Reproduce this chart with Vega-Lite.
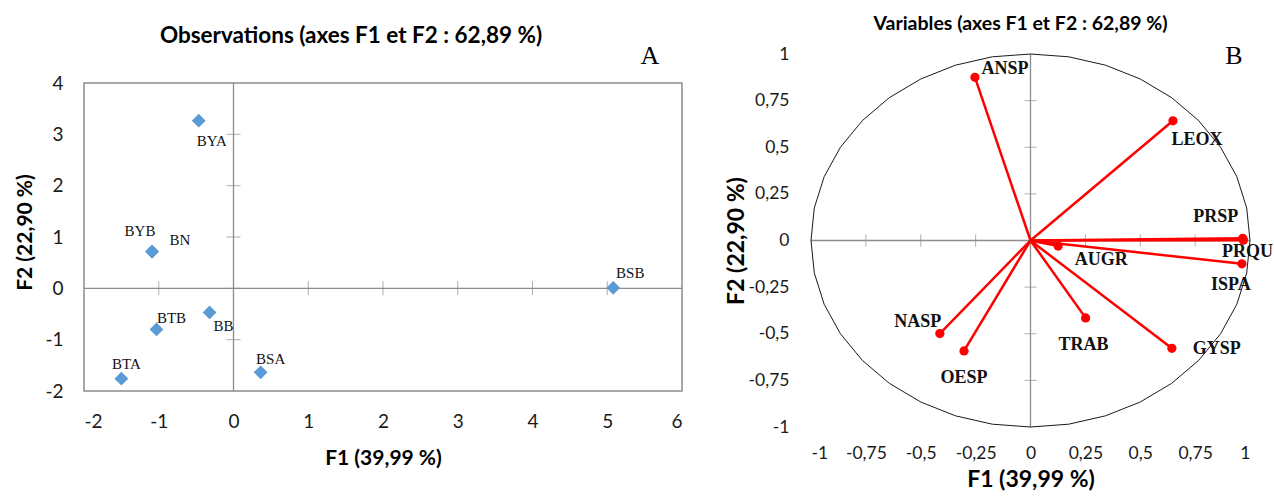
{
  "$schema": "https://vega.github.io/schema/vega-lite/v6.json",
  "padding": {"left": 14, "top": 14, "right": 0, "bottom": 0},
  "spacing": 42,
  "background": "white",
  "config": {
    "font": "Lato",
    "view": {"stroke": null},
    "axis": {"grid": false, "domain": false, "ticks": false, "tickSize": 0, "labelFont": "Lato", "titleFont": "Lato", "labelColor": "#1a1a1a", "titleColor": "#000000", "titleFontWeight": "bold"}
  },
  "datasets": {
    "obs": [
      {"name": "BYA", "x": -0.465, "y": 3.265},
      {"name": "BYB", "x": -1.09, "y": 0.717},
      {"name": "BN", "x": -1.09, "y": 0.717},
      {"name": "BSB", "x": 5.08, "y": 0.01},
      {"name": "BB", "x": -0.32, "y": -0.47},
      {"name": "BTB", "x": -1.03, "y": -0.8},
      {"name": "BTA", "x": -1.5, "y": -1.76},
      {"name": "BSA", "x": 0.363, "y": -1.637}
    ],
    "vars": [
      {"name": "ANSP", "x": -0.253, "y": 0.875},
      {"name": "LEOX", "x": 0.649, "y": 0.642},
      {"name": "PRSP", "x": 0.967, "y": 0.012},
      {"name": "PRQU", "x": 0.97, "y": 0.002},
      {"name": "ISPA", "x": 0.963, "y": -0.125},
      {"name": "AUGR", "x": 0.126, "y": -0.03},
      {"name": "TRAB", "x": 0.251, "y": -0.415},
      {"name": "GYSP", "x": 0.644, "y": -0.578},
      {"name": "NASP", "x": -0.413, "y": -0.499},
      {"name": "OESP", "x": -0.303, "y": -0.592}
    ],
    "ticksAx": [{"v": -1}, {"v": 1}, {"v": 2}, {"v": 3}, {"v": 4}, {"v": 5}],
    "ticksAy": [{"v": -1}, {"v": 0}, {"v": 1}, {"v": 2}, {"v": 3}],
    "ticksB": [{"v": -0.75}, {"v": -0.5}, {"v": -0.25}, {"v": 0.25}, {"v": 0.5}, {"v": 0.75}],
    "circle": [
      {"a": 0, "x": 1, "y": 0}, {"a": 10, "x": 0.985, "y": 0.174}, {"a": 20, "x": 0.94, "y": 0.342},
      {"a": 30, "x": 0.866, "y": 0.5}, {"a": 40, "x": 0.766, "y": 0.643}, {"a": 50, "x": 0.643, "y": 0.766},
      {"a": 60, "x": 0.5, "y": 0.866}, {"a": 70, "x": 0.342, "y": 0.94}, {"a": 80, "x": 0.174, "y": 0.985},
      {"a": 90, "x": 0, "y": 1}, {"a": 100, "x": -0.174, "y": 0.985}, {"a": 110, "x": -0.342, "y": 0.94},
      {"a": 120, "x": -0.5, "y": 0.866}, {"a": 130, "x": -0.643, "y": 0.766}, {"a": 140, "x": -0.766, "y": 0.643},
      {"a": 150, "x": -0.866, "y": 0.5}, {"a": 160, "x": -0.94, "y": 0.342}, {"a": 170, "x": -0.985, "y": 0.174},
      {"a": 180, "x": -1, "y": 0}, {"a": 190, "x": -0.985, "y": -0.174}, {"a": 200, "x": -0.94, "y": -0.342},
      {"a": 210, "x": -0.866, "y": -0.5}, {"a": 220, "x": -0.766, "y": -0.643}, {"a": 230, "x": -0.643, "y": -0.766},
      {"a": 240, "x": -0.5, "y": -0.866}, {"a": 250, "x": -0.342, "y": -0.94}, {"a": 260, "x": -0.174, "y": -0.985},
      {"a": 270, "x": 0, "y": -1}, {"a": 280, "x": 0.174, "y": -0.985}, {"a": 290, "x": 0.342, "y": -0.94},
      {"a": 300, "x": 0.5, "y": -0.866}, {"a": 310, "x": 0.643, "y": -0.766}, {"a": 320, "x": 0.766, "y": -0.643},
      {"a": 330, "x": 0.866, "y": -0.5}, {"a": 340, "x": 0.94, "y": -0.342}, {"a": 350, "x": 0.985, "y": -0.174},
      {"a": 360, "x": 1, "y": 0}
    ]
  },
  "hconcat": [
    {
      "width": 598,
      "height": 337,
      "title": {"text": "Observations (axes F1 et F2 : 62,89 %)", "font": "Lato", "fontSize": 22.5, "fontWeight": "bold", "color": "#000000", "offset": -5, "dx": -32},
      "data": {"name": "obs"},
      "layer": [
        {
          "data": {"values": [{}]},
          "mark": {"type": "rect", "filled": false, "stroke": "#8c8c8c", "strokeWidth": 1.5},
          "encoding": {
            "x": {"datum": -2, "type": "quantitative", "scale": {"domain": [-2, 6], "nice": false, "zero": false},
                  "axis": {"title": "F1 (39,99 %)", "values": [-2, -1, 0, 1, 2, 3, 4, 5, 6], "labelExpr": "toString(datum.value)", "labelFontSize": 19, "labelPadding": 21, "titleFontSize": 21, "titlePadding": 16}},
            "x2": {"datum": 6},
            "y": {"datum": -2, "type": "quantitative", "scale": {"domain": [-2, 4.565], "nice": false, "zero": false},
                  "axis": {"title": "F2 (22,90 %)", "values": [-2, -1, 0, 1, 2, 3, 4], "labelExpr": "toString(datum.value)", "labelFontSize": 19, "labelPadding": 21, "titleFontSize": 21, "titlePadding": 9, "titleY": 178}},
            "y2": {"datum": 4}
          }
        },
        {
          "data": {"values": [{}]},
          "mark": {"type": "rule", "color": "#8c8c8c", "strokeWidth": 1.3},
          "encoding": {"x": {"datum": 0, "type": "quantitative"}, "y": {"datum": -2, "type": "quantitative"}, "y2": {"datum": 4}}
        },
        {
          "data": {"values": [{}]},
          "mark": {"type": "rule", "color": "#8c8c8c", "strokeWidth": 1.3},
          "encoding": {"y": {"datum": 0, "type": "quantitative"}, "x": {"datum": -2, "type": "quantitative"}, "x2": {"datum": 6}}
        },
        {
          "data": {"name": "ticksAx"},
          "mark": {"type": "tick", "orient": "vertical", "size": 14, "thickness": 1, "color": "#8c8c8c"},
          "encoding": {"x": {"field": "v", "type": "quantitative"}, "y": {"datum": 0, "type": "quantitative"}}
        },
        {
          "data": {"name": "ticksAy"},
          "mark": {"type": "tick", "orient": "horizontal", "size": 14, "thickness": 1, "color": "#8c8c8c"},
          "encoding": {"y": {"field": "v", "type": "quantitative"}, "x": {"datum": 0, "type": "quantitative"}}
        },
        {
          "mark": {"type": "point", "shape": "diamond", "filled": true, "size": 190, "color": "#5b9bd5", "opacity": 1},
          "encoding": {"x": {"field": "x", "type": "quantitative"}, "y": {"field": "y", "type": "quantitative"}}
        },
        {"transform": [{"filter": "datum.name === 'BYA'"}], "mark": {"type": "text", "font": "Liberation Serif", "fontSize": 15, "color": "#111", "dx": 13, "dy": 20}, "encoding": {"x": {"field": "x", "type": "quantitative"}, "y": {"field": "y", "type": "quantitative"}, "text": {"field": "name", "type": "nominal"}}},
        {"transform": [{"filter": "datum.name === 'BYB'"}], "mark": {"type": "text", "font": "Liberation Serif", "fontSize": 15, "color": "#111", "dx": -12, "dy": -21}, "encoding": {"x": {"field": "x", "type": "quantitative"}, "y": {"field": "y", "type": "quantitative"}, "text": {"field": "name", "type": "nominal"}}},
        {"transform": [{"filter": "datum.name === 'BN'"}], "mark": {"type": "text", "font": "Liberation Serif", "fontSize": 15, "color": "#111", "dx": 28, "dy": -12}, "encoding": {"x": {"field": "x", "type": "quantitative"}, "y": {"field": "y", "type": "quantitative"}, "text": {"field": "name", "type": "nominal"}}},
        {"transform": [{"filter": "datum.name === 'BSB'"}], "mark": {"type": "text", "font": "Liberation Serif", "fontSize": 15, "color": "#111", "dx": 17, "dy": -15}, "encoding": {"x": {"field": "x", "type": "quantitative"}, "y": {"field": "y", "type": "quantitative"}, "text": {"field": "name", "type": "nominal"}}},
        {"transform": [{"filter": "datum.name === 'BB'"}], "mark": {"type": "text", "font": "Liberation Serif", "fontSize": 15, "color": "#111", "dx": 14, "dy": 14}, "encoding": {"x": {"field": "x", "type": "quantitative"}, "y": {"field": "y", "type": "quantitative"}, "text": {"field": "name", "type": "nominal"}}},
        {"transform": [{"filter": "datum.name === 'BTB'"}], "mark": {"type": "text", "font": "Liberation Serif", "fontSize": 15, "color": "#111", "dx": 15, "dy": -11}, "encoding": {"x": {"field": "x", "type": "quantitative"}, "y": {"field": "y", "type": "quantitative"}, "text": {"field": "name", "type": "nominal"}}},
        {"transform": [{"filter": "datum.name === 'BTA'"}], "mark": {"type": "text", "font": "Liberation Serif", "fontSize": 15, "color": "#111", "dx": 5, "dy": -15}, "encoding": {"x": {"field": "x", "type": "quantitative"}, "y": {"field": "y", "type": "quantitative"}, "text": {"field": "name", "type": "nominal"}}},
        {"transform": [{"filter": "datum.name === 'BSA'"}], "mark": {"type": "text", "font": "Liberation Serif", "fontSize": 15, "color": "#111", "dx": 10, "dy": -13}, "encoding": {"x": {"field": "x", "type": "quantitative"}, "y": {"field": "y", "type": "quantitative"}, "text": {"field": "name", "type": "nominal"}}},
        {
          "data": {"values": [{"label": "A"}]},
          "mark": {"type": "text", "font": "Liberation Serif", "fontSize": 26, "color": "#000"},
          "encoding": {"x": {"datum": 5.57, "type": "quantitative"}, "y": {"datum": 4.53, "type": "quantitative"}, "text": {"field": "label", "type": "nominal"}}
        }
      ]
    },
    {
      "width": 439,
      "height": 373,
      "title": {"text": "Variables (axes F1 et F2 : 62,89 %)", "font": "Lato", "fontSize": 19.5, "fontWeight": "bold", "color": "#000000", "offset": 8, "dx": -10},
      "data": {"name": "vars"},
      "layer": [
        {
          "data": {"values": [{}]},
          "mark": {"type": "rule", "color": "#8c8c8c", "strokeWidth": 1.3},
          "encoding": {
            "x": {"datum": 0, "type": "quantitative", "scale": {"domain": [-1, 1], "nice": false, "zero": false},
                  "axis": {"title": "F1 (39,99 %)", "values": [-1, -0.75, -0.5, -0.25, 0, 0.25, 0.5, 0.75, 1], "labelExpr": "replace(toString(datum.value), '.', ',')", "labelFontSize": 17.5, "labelPadding": 17, "titleFontSize": 23, "titlePadding": 7}},
            "y": {"datum": -1, "type": "quantitative", "scale": {"domain": [-1, 1], "nice": false, "zero": false},
                  "axis": {"title": "F2 (22,90 %)", "values": [-1, -0.75, -0.5, -0.25, 0, 0.25, 0.5, 0.75, 1], "labelExpr": "replace(toString(datum.value), '.', ',')", "labelFontSize": 17.5, "labelPadding": 22, "titleFontSize": 23, "titlePadding": 0}},
            "y2": {"datum": 1}
          }
        },
        {
          "data": {"values": [{}]},
          "mark": {"type": "rule", "color": "#8c8c8c", "strokeWidth": 1.3},
          "encoding": {"y": {"datum": 0, "type": "quantitative"}, "x": {"datum": -1, "type": "quantitative"}, "x2": {"datum": 1}}
        },
        {
          "data": {"name": "ticksB"},
          "mark": {"type": "tick", "orient": "vertical", "size": 12, "thickness": 1, "color": "#8c8c8c"},
          "encoding": {"x": {"field": "v", "type": "quantitative"}, "y": {"datum": 0, "type": "quantitative"}}
        },
        {
          "data": {"name": "ticksB"},
          "mark": {"type": "tick", "orient": "horizontal", "size": 12, "thickness": 1, "color": "#8c8c8c"},
          "encoding": {"y": {"field": "v", "type": "quantitative"}, "x": {"datum": 0, "type": "quantitative"}}
        },
        {
          "data": {"name": "circle"},
          "mark": {"type": "line", "color": "#000000", "strokeWidth": 0.9},
          "encoding": {"x": {"field": "x", "type": "quantitative"}, "y": {"field": "y", "type": "quantitative"}, "order": {"field": "a", "type": "quantitative"}}
        },
        {
          "mark": {"type": "rule", "color": "#ff0000", "strokeWidth": 2.5},
          "encoding": {"x": {"field": "x", "type": "quantitative"}, "y": {"field": "y", "type": "quantitative"}, "x2": {"datum": 0}, "y2": {"datum": 0}}
        },
        {
          "mark": {"type": "circle", "color": "#ff0000", "size": 85, "opacity": 1},
          "encoding": {"x": {"field": "x", "type": "quantitative"}, "y": {"field": "y", "type": "quantitative"}}
        },
        {"transform": [{"filter": "datum.name === 'ANSP'"}], "mark": {"type": "text", "font": "Liberation Serif", "fontWeight": "bold", "fontSize": 18, "color": "#111", "dx": 30, "dy": -8}, "encoding": {"x": {"field": "x", "type": "quantitative"}, "y": {"field": "y", "type": "quantitative"}, "text": {"field": "name", "type": "nominal"}}},
        {"transform": [{"filter": "datum.name === 'LEOX'"}], "mark": {"type": "text", "font": "Liberation Serif", "fontWeight": "bold", "fontSize": 18, "color": "#111", "dx": 24, "dy": 19}, "encoding": {"x": {"field": "x", "type": "quantitative"}, "y": {"field": "y", "type": "quantitative"}, "text": {"field": "name", "type": "nominal"}}},
        {"transform": [{"filter": "datum.name === 'PRSP'"}], "mark": {"type": "text", "font": "Liberation Serif", "fontWeight": "bold", "fontSize": 18, "color": "#111", "dx": -27, "dy": -21}, "encoding": {"x": {"field": "x", "type": "quantitative"}, "y": {"field": "y", "type": "quantitative"}, "text": {"field": "name", "type": "nominal"}}},
        {"transform": [{"filter": "datum.name === 'PRQU'"}], "mark": {"type": "text", "font": "Liberation Serif", "fontWeight": "bold", "fontSize": 18, "color": "#111", "dx": 4, "dy": 12}, "encoding": {"x": {"field": "x", "type": "quantitative"}, "y": {"field": "y", "type": "quantitative"}, "text": {"field": "name", "type": "nominal"}}},
        {"transform": [{"filter": "datum.name === 'ISPA'"}], "mark": {"type": "text", "font": "Liberation Serif", "fontWeight": "bold", "fontSize": 18, "color": "#111", "dx": -11, "dy": 21}, "encoding": {"x": {"field": "x", "type": "quantitative"}, "y": {"field": "y", "type": "quantitative"}, "text": {"field": "name", "type": "nominal"}}},
        {"transform": [{"filter": "datum.name === 'AUGR'"}], "mark": {"type": "text", "font": "Liberation Serif", "fontWeight": "bold", "fontSize": 18, "color": "#111", "dx": 43, "dy": 14}, "encoding": {"x": {"field": "x", "type": "quantitative"}, "y": {"field": "y", "type": "quantitative"}, "text": {"field": "name", "type": "nominal"}}},
        {"transform": [{"filter": "datum.name === 'TRAB'"}], "mark": {"type": "text", "font": "Liberation Serif", "fontWeight": "bold", "fontSize": 18, "color": "#111", "dx": -2, "dy": 27}, "encoding": {"x": {"field": "x", "type": "quantitative"}, "y": {"field": "y", "type": "quantitative"}, "text": {"field": "name", "type": "nominal"}}},
        {"transform": [{"filter": "datum.name === 'GYSP'"}], "mark": {"type": "text", "font": "Liberation Serif", "fontWeight": "bold", "fontSize": 18, "color": "#111", "dx": 45, "dy": 1}, "encoding": {"x": {"field": "x", "type": "quantitative"}, "y": {"field": "y", "type": "quantitative"}, "text": {"field": "name", "type": "nominal"}}},
        {"transform": [{"filter": "datum.name === 'NASP'"}], "mark": {"type": "text", "font": "Liberation Serif", "fontWeight": "bold", "fontSize": 18, "color": "#111", "dx": -22, "dy": -12}, "encoding": {"x": {"field": "x", "type": "quantitative"}, "y": {"field": "y", "type": "quantitative"}, "text": {"field": "name", "type": "nominal"}}},
        {"transform": [{"filter": "datum.name === 'OESP'"}], "mark": {"type": "text", "font": "Liberation Serif", "fontWeight": "bold", "fontSize": 18, "color": "#111", "dx": 0, "dy": 27}, "encoding": {"x": {"field": "x", "type": "quantitative"}, "y": {"field": "y", "type": "quantitative"}, "text": {"field": "name", "type": "nominal"}}},
        {
          "data": {"values": [{"label": "B"}]},
          "mark": {"type": "text", "font": "Liberation Serif", "fontSize": 26, "color": "#000"},
          "encoding": {"x": {"datum": 0.927, "type": "quantitative"}, "y": {"datum": 0.99, "type": "quantitative"}, "text": {"field": "label", "type": "nominal"}}
        }
      ]
    }
  ]
}
